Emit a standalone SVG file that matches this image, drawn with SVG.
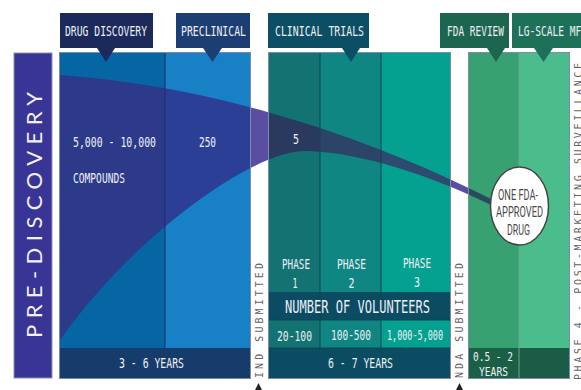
<svg xmlns="http://www.w3.org/2000/svg" width="581" height="390" viewBox="0 0 581 390">
<style>
.hdr{font-family:"DejaVu Sans Mono","Liberation Mono",monospace;font-size:14px;fill:#eef0f6}
.wt{font-family:"DejaVu Sans Mono","Liberation Mono",monospace;font-size:14px;fill:#eef0f6}
.big{font-size:17px}
.sm{font-size:12.5px}
.vt{font-family:"DejaVu Sans Mono","Liberation Mono",monospace;font-size:10px;fill:#6b5f66}
.oval{font-family:Roboto,"Liberation Sans",sans-serif;font-size:14px;fill:#4a4a4a}
.outl{fill:none;stroke:#7d8aa8;stroke-width:1}
.div{stroke-width:1}
</style>
<defs>
<path id="funnel" d="M60,75 C200,85 350,128 493,200 L493,206 C420,170 350,151 305,151 C250,151 130,240 60,340 Z"/>
<clipPath id="cDD"><rect x="60" y="53" width="105" height="295"/></clipPath>
<clipPath id="cPRE"><rect x="165" y="53" width="85" height="295"/></clipPath>
<clipPath id="cG1"><rect x="250" y="53" width="19" height="295"/></clipPath>
<clipPath id="cP1"><rect x="269" y="53" width="51" height="239"/></clipPath>
<clipPath id="cP2"><rect x="320" y="53" width="61" height="239"/></clipPath>
<clipPath id="cP3"><rect x="381" y="53" width="69" height="239"/></clipPath>
<clipPath id="cG2"><rect x="450" y="53" width="19" height="295"/></clipPath>
<clipPath id="cFDA"><rect x="469" y="53" width="50" height="295"/></clipPath>
</defs>

<g id="pre-discovery">
<rect x="14" y="53" width="38" height="325" fill="#393596" stroke="#8a90b4" stroke-width="1"/>
<text x="42" y="338" transform="rotate(-90 42 338)" font-family="Lato,'Liberation Sans',sans-serif" font-size="22" fill="#f4f0f8" textLength="246" lengthAdjust="spacing">PRE-DISCOVERY</text>
</g>

<g id="drug-discovery">
<rect x="60" y="53" width="105" height="295" fill="#0665a3"/>
</g>
<g id="preclinical">
<rect x="165" y="53" width="85" height="295" fill="#1880c4"/>
</g>
<g id="clinical-trials">
<rect x="269" y="53" width="51" height="239" fill="#137272"/>
<rect x="320" y="53" width="61" height="239" fill="#0f8682"/>
<rect x="381" y="53" width="69" height="239" fill="#05a190"/>
</g>
<g id="fda-review">
<rect x="469" y="53" width="50" height="295" fill="#37a171"/>
</g>
<g id="lg-scale-mfg">
<rect x="519" y="53" width="50" height="295" fill="#4bbd8d"/>
</g>

<g id="funnel-shape">
<use href="#funnel" fill="#2c3a89" clip-path="url(#cDD)"/>
<use href="#funnel" fill="#2c3f96" clip-path="url(#cPRE)"/>
<use href="#funnel" fill="#5a4ea2" clip-path="url(#cG1)"/>
<use href="#funnel" fill="#2a3a5e" clip-path="url(#cP1)"/>
<use href="#funnel" fill="#2c4468" clip-path="url(#cP2)"/>
<use href="#funnel" fill="#2d4a70" clip-path="url(#cP3)"/>
<use href="#funnel" fill="#5a4ea2" clip-path="url(#cG2)"/>
<use href="#funnel" fill="#2c4a5e" clip-path="url(#cFDA)"/>
</g>

<g id="bottom-bands">
<rect x="60" y="348" width="190" height="30" fill="#163c6c"/>
<rect x="269" y="292" width="181" height="28" fill="#0b4c63"/>
<rect x="269" y="320" width="51" height="28" fill="#137272"/>
<rect x="320" y="320" width="61" height="28" fill="#0f8682"/>
<rect x="381" y="320" width="69" height="28" fill="#05a190"/>
<rect x="269" y="348" width="181" height="30" fill="#0b4c63"/>
<rect x="469" y="348" width="50" height="30" fill="#1b5f46"/>
<rect x="519" y="348" width="50" height="30" fill="#1c5c47"/>
</g>

<g id="dividers">
<line x1="165" y1="53" x2="165" y2="348" stroke="#1e2d66" class="div"/>
<line x1="320" y1="53" x2="320" y2="348" stroke="#0c4753" class="div"/>
<line x1="381" y1="53" x2="381" y2="348" stroke="#0c4753" class="div"/>
<line x1="269" y1="320" x2="450" y2="320" stroke="#0c4753" class="div"/>
<line x1="269" y1="348" x2="450" y2="348" stroke="#0c4753" class="div"/>
<line x1="519" y1="53" x2="519" y2="378" stroke="#6aa88a" class="div"/>
<rect x="59.5" y="52.5" width="191" height="326" class="outl"/>
<rect x="268.5" y="52.5" width="182" height="326" class="outl"/>
<rect x="468.5" y="52.5" width="101" height="326" class="outl"/>
</g>

<g id="headers">
<g id="hdr-drug-discovery">
<rect x="60" y="13" width="93" height="35" fill="#1b2a5b"/>
<polygon points="97,48 115,48 106,62" fill="#1b2a5b"/>
<text x="65" y="36" class="hdr" textLength="82" lengthAdjust="spacingAndGlyphs">DRUG DISCOVERY</text>
</g>
<g id="hdr-preclinical">
<rect x="176" y="13" width="74" height="35" fill="#1d3e72"/>
<polygon points="203,48 222,48 212.5,62" fill="#1d3e72"/>
<text x="181" y="36" class="hdr" textLength="65" lengthAdjust="spacingAndGlyphs">PRECLINICAL</text>
</g>
<g id="hdr-clinical">
<rect x="268" y="13" width="101" height="35" fill="#0c4e64"/>
<polygon points="342,48 360,48 351,62" fill="#0c4e64"/>
<text x="275" y="36" class="hdr" textLength="89" lengthAdjust="spacingAndGlyphs">CLINICAL TRIALS</text>
</g>
<g id="hdr-fda">
<rect x="440" y="13" width="69" height="35" fill="#1c654f"/>
<polygon points="487,48 505,48 496,62" fill="#1c654f"/>
<text x="447" y="36" class="hdr" textLength="57" lengthAdjust="spacingAndGlyphs">FDA REVIEW</text>
</g>
<g id="hdr-lg">
<rect x="512" y="13" width="80" height="35" fill="#1e7159"/>
<polygon points="534,48 553,48 543.5,62" fill="#1e7159"/>
<text x="518" y="36" class="hdr" textLength="69" lengthAdjust="spacingAndGlyphs">LG-SCALE MFG</text>
</g>
</g>

<g id="labels">
<text x="73" y="147" class="wt" textLength="83" lengthAdjust="spacingAndGlyphs">5,000 - 10,000</text>
<text x="73" y="183" class="wt" textLength="52" lengthAdjust="spacingAndGlyphs">COMPOUNDS</text>
<text x="199" y="147" class="wt" textLength="17" lengthAdjust="spacingAndGlyphs">250</text>
<text x="293" y="144" class="wt" textLength="6" lengthAdjust="spacingAndGlyphs">5</text>
<text x="282" y="269" class="wt" textLength="28" lengthAdjust="spacingAndGlyphs">PHASE</text>
<text x="292.5" y="288" class="wt" textLength="5" lengthAdjust="spacingAndGlyphs">1</text>
<text x="337" y="269" class="wt" textLength="29" lengthAdjust="spacingAndGlyphs">PHASE</text>
<text x="348.5" y="288" class="wt" textLength="6" lengthAdjust="spacingAndGlyphs">2</text>
<text x="403" y="268" class="wt" textLength="28" lengthAdjust="spacingAndGlyphs">PHASE</text>
<text x="414" y="287" class="wt" textLength="6" lengthAdjust="spacingAndGlyphs">3</text>
<text x="285" y="313" class="wt big" textLength="145" lengthAdjust="spacingAndGlyphs">NUMBER OF VOLUNTEERS</text>
<text x="277" y="341" class="wt" textLength="35" lengthAdjust="spacingAndGlyphs">20-100</text>
<text x="331" y="340" class="wt" textLength="40" lengthAdjust="spacingAndGlyphs">100-500</text>
<text x="387" y="340" class="wt" textLength="56" lengthAdjust="spacingAndGlyphs">1,000-5,000</text>
<text x="119" y="368" class="wt" textLength="65" lengthAdjust="spacingAndGlyphs">3 - 6 YEARS</text>
<text x="328" y="368" class="wt" textLength="65" lengthAdjust="spacingAndGlyphs">6 - 7 YEARS</text>
<text x="473" y="361" class="wt sm" textLength="40" lengthAdjust="spacingAndGlyphs">0.5 - 2</text>
<text x="479" y="376" class="wt sm" textLength="29" lengthAdjust="spacingAndGlyphs">YEARS</text>
</g>

<g id="approved-drug">
<ellipse cx="519.5" cy="206" rx="29" ry="39" fill="#ffffff" stroke="#454545" stroke-width="1.5"/>
<text x="498" y="200" class="oval" textLength="40" lengthAdjust="spacingAndGlyphs">ONE FDA-</text>
<text x="496" y="217" class="oval" textLength="47" lengthAdjust="spacingAndGlyphs">APPROVED</text>
<text x="507" y="235" class="oval" textLength="23" lengthAdjust="spacingAndGlyphs">DRUG</text>
</g>

<g id="milestones">
<text x="263" y="378" transform="rotate(-90 263 378)" class="vt" textLength="115" lengthAdjust="spacing">IND SUBMITTED</text>
<text x="463" y="378" transform="rotate(-90 463 378)" class="vt" textLength="115" lengthAdjust="spacing">NDA SUBMITTED</text>
<text x="582" y="380" transform="rotate(-90 582 380)" class="vt" textLength="317" lengthAdjust="spacing">PHASE 4 - POST-MARKETING SURVEILLANCE</text>
</g>

<g id="connectors">
<polygon points="255,390 262,390 258.5,383" fill="#222"/>
<polygon points="456,390 463,390 459.5,383" fill="#222"/>
</g>
</svg>
